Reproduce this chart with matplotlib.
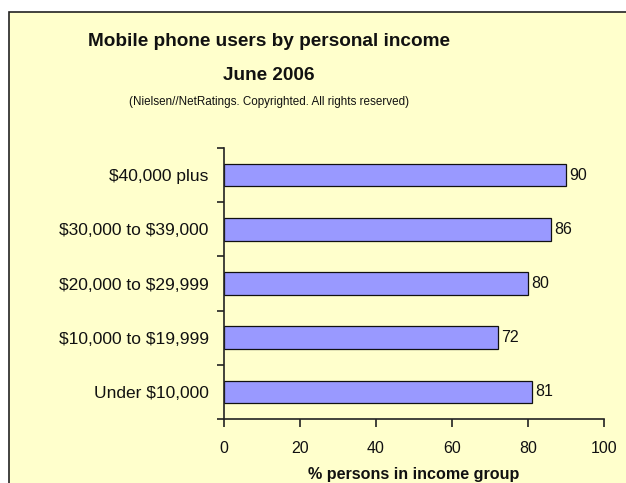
import matplotlib

matplotlib.use("Agg")
import matplotlib.pyplot as plt
from matplotlib.patches import Rectangle
from matplotlib.ticker import FixedLocator, NullFormatter

plt.rcParams["font.family"] = ["Liberation Sans", "DejaVu Sans"]
plt.rcParams["text.parse_math"] = False  # labels contain literal "$"

# data
categories = [
    "$40,000 plus",
    "$30,000 to $39,000",
    "$20,000 to $29,999",
    "$10,000 to $19,999",
    "Under $10,000",
]
values = [90, 86, 80, 72, 81]
x_ticks = [0, 20, 40, 60, 80, 100]

BG = "#FFFFCC"
BAR = "#9999FF"

W, H = 626, 483
fig = plt.figure(figsize=(W / 100, H / 100), dpi=100, facecolor="white")

# pale yellow chart area with dark frame (runs off right/bottom of image)
fig.patches.append(Rectangle((9 / W, -0.05), 1.1, 1 - 12 / H + 0.05,
                             transform=fig.transFigure, facecolor=BG,
                             edgecolor="#222222", linewidth=1.2, zorder=-5))

ax = fig.add_axes([224 / W, 1 - 419 / H, 380 / W, 271 / H])
ax.set_facecolor("none")

y = list(range(len(categories)))
ax.barh(y, values, height=0.42, color=BAR, edgecolor="#111111", linewidth=0.9)
for yi, v in zip(y, values):
    ax.text(v + 0.9, yi, str(v), va="center", ha="left", fontsize=11.5, color="#111111")

ax.set_xlim(0, 100)
ax.set_ylim(len(categories) - 0.5, -0.5)
ax.set_xticks(x_ticks)
ax.set_yticks(y)
ax.set_yticklabels(categories, fontsize=12.5, color="#111111")
ax.yaxis.set_minor_locator(FixedLocator([i - 0.5 for i in range(len(categories) + 1)]))
ax.yaxis.set_minor_formatter(NullFormatter())
ax.tick_params(axis="y", which="major", length=0, pad=11)
ax.tick_params(axis="y", which="minor", length=5, width=1.2, color="#222222")
ax.tick_params(axis="x", length=6, width=1.2, color="#222222", labelsize=11.5,
               labelcolor="#111111", pad=10)

for side in ["top", "right"]:
    ax.spines[side].set_visible(False)
for side in ["left", "bottom"]:
    ax.spines[side].set_linewidth(1.2)
    ax.spines[side].set_color("#222222")

ax.set_xlabel("% persons in income group", fontsize=11.6, fontweight="bold",
              color="#111111", labelpad=8)

fig.text(269 / W, 1 - 41 / H, "Mobile phone users by personal income",
         ha="center", va="center", fontsize=13.7, fontweight="bold", color="#111111")
fig.text(269 / W, 1 - 75 / H, "June 2006",
         ha="center", va="center", fontsize=13.7, fontweight="bold", color="#111111")
fig.text(269 / W, 1 - 102 / H, "(Nielsen//NetRatings. Copyrighted. All rights reserved)",
         ha="center", va="center", fontsize=8.4, color="#111111")

fig.savefig("out.png", dpi=100, facecolor="white")
